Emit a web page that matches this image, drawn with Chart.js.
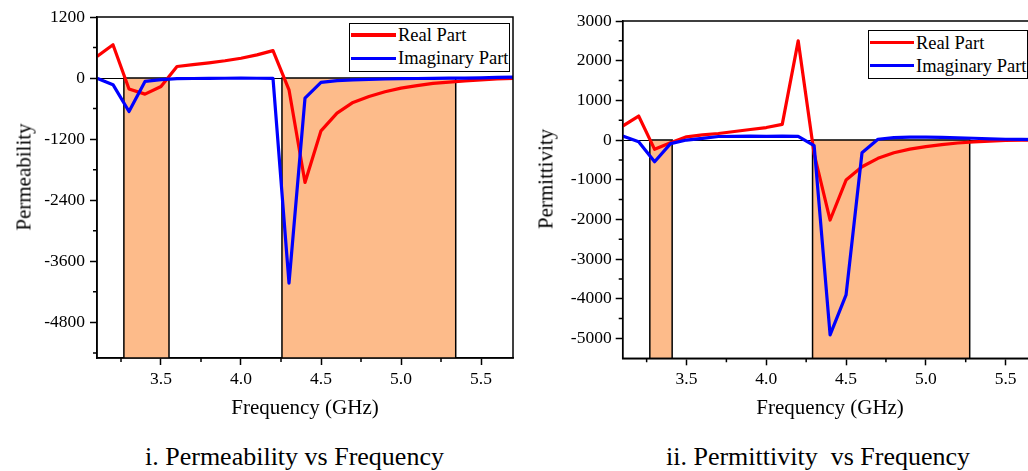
<!DOCTYPE html>
<html>
<head>
<meta charset="utf-8">
<script src="https://cdn.jsdelivr.net/npm/chart.js@4.4.0/dist/chart.umd.min.js"></script>
<style>
html,body{margin:0;padding:0;background:#fff;overflow:hidden;width:1028px;height:471px;}
body{position:relative;font-family:"Liberation Serif","Times New Roman",serif;color:#000;}
canvas{position:absolute;top:0;}
.cap{position:absolute;font-size:26px;line-height:26px;white-space:pre;}
.ytitle{position:absolute;font-size:21px;line-height:21px;white-space:pre;transform:translate(-50%,-50%) rotate(-90deg);}
.lbox{position:absolute;border:1.5px solid #000;background:#fff;box-sizing:border-box;}
.row{position:absolute;height:20px;line-height:20px;font-size:18.5px;white-space:pre;}
.sw{position:absolute;height:3.4px;}
</style>
</head>
<body>
<canvas id="c1" width="530" height="430" style="left:0px;width:530px;height:430px;"></canvas>
<canvas id="c2" width="520" height="430" style="left:530px;width:520px;height:430px;"></canvas>

<div class="ytitle" style="left:24px;top:177px;">Permeability</div>
<div class="ytitle" style="left:546px;top:179px;">Permittivity</div>

<div class="lbox" style="left:349px;top:22.5px;width:161px;height:49px;"></div>
<div class="sw" style="left:350.5px;top:33.3px;width:45px;background:#ff0000;"></div>
<div class="sw" style="left:350.5px;top:56.6px;width:45px;background:#0000ff;"></div>
<div class="row" style="left:398px;top:25px;">Real Part</div>
<div class="row" style="left:398px;top:48.3px;">Imaginary Part</div>

<div class="lbox" style="left:868px;top:30px;width:160px;height:49px;"></div>
<div class="sw" style="left:869.5px;top:41px;width:44px;background:#ff0000;"></div>
<div class="sw" style="left:869.5px;top:64px;width:44px;background:#0000ff;"></div>
<div class="row" style="left:916px;top:32.7px;">Real Part</div>
<div class="row" style="left:916px;top:55.7px;">Imaginary Part</div>

<div class="cap" style="left:145px;top:444px;">i. Permeability vs Frequency</div>
<div class="cap" style="left:666px;top:444px;">ii. Permittivity  vs Frequency</div>

<script>
// ---- data ----
const freq = [3.1,3.2,3.3,3.4,3.5,3.6,3.7,3.8,3.9,4.0,4.1,4.2,4.3,4.4,4.5,4.6,4.7,4.8,4.9,5.0,5.1,5.2,5.3,5.4,5.5,5.6,5.7];
const muReal  = [425,655,-216,-315,-165,228,265,300,340,390,455,540,-230,-2050,-1036,-689,-479,-361,-269,-197,-148,-105,-78,-55,-35,-18,-5];
const muImag  = [-5,-130,-657,-65,-30,-12,-8,-5,-3,-2,-3,-5,-4030,-393,-86,-50,-35,-25,-18,-12,-8,-5,-2,0,5,15,20];
const epsReal = [353,605,-234,-68,80,130,165,215,265,315,395,2500,-350,-2015,-1008,-672,-461,-319,-230,-165,-115,-75,-45,-25,-12,-5,0];
const epsImag = [100,-42,-546,-90,0,40,90,95,100,95,100,95,-143,-4912,-3904,-319,20,60,75,75,65,55,45,30,20,15,10];

const freqTicks = [3.5,4.0,4.5,5.0,5.5];
const freqMinor = [3.25,3.75,4.25,4.75,5.25];
const muTicks = [-4800,-3600,-2400,-1200,0,1200];
const muMinor = [-5400,-4200,-3000,-1800,-600,600];
const epsTicks = [-5000,-4000,-3000,-2000,-1000,0,1000,2000,3000];
const epsMinor = [-4500,-3500,-2500,-1500,-500,500,1500,2500];
const muBands = [[3.268,3.55],[4.256,5.342]];
const epsBands = [[3.27,3.41],[4.29,5.275]];

const FONT = 'Liberation Serif';

const framePlugin = {
  id: 'frameMinor',
  afterDraw(chart, args, opts) {
    const {ctx, chartArea: ca, scales: {x, y}} = chart;
    ctx.save();
    ctx.strokeStyle = '#000';
    ctx.lineWidth = 1.5;
    ctx.beginPath();
    (opts.y || []).forEach(v => { const py = y.getPixelForValue(v); ctx.moveTo(ca.left, py); ctx.lineTo(ca.left - 4, py); });
    (opts.x || []).forEach(v => { const px = x.getPixelForValue(v); ctx.moveTo(px, ca.bottom); ctx.lineTo(px, ca.bottom + 4); });
    ctx.stroke();
    ctx.strokeRect(ca.left, ca.top, ca.right - ca.left, ca.bottom - ca.top);
    ctx.restore();
  }
};

function makeChart(id, real, imag, yTicks, yMinor, yMin, yMax, bands, d) {
  const pts = arr => freq.map((f, i) => ({x: f, y: arr[i]}));
  const bandSets = bands.map(([a, b]) => ({
    data: [{x: a, y: yMin}, {x: a, y: 0}, {x: b, y: 0}, {x: b, y: yMin}],
    borderColor: '#000', borderWidth: 1.5, backgroundColor: 'rgb(253,187,138)',
    fill: 'start', pointRadius: 0, tension: 0, order: 5
  }));
  return new Chart(document.getElementById(id), {
    type: 'line',
    data: {
      datasets: [
        {label: 'Imaginary Part', data: pts(imag), borderColor: '#0000ff', borderWidth: 3.2, pointRadius: 0, tension: 0, fill: false, borderJoinStyle: 'round', order: 0},
        {label: 'Real Part', data: pts(real), borderColor: '#ff0000', borderWidth: 3.2, pointRadius: 0, tension: 0, fill: false, borderJoinStyle: 'round', order: 1},
        ...bandSets
      ]
    },
    options: {
      responsive: false,
      animation: false,
      devicePixelRatio: 1,
      layout: {padding: {left: 0, top: d.top, right: d.right, bottom: 0}},
      plugins: {legend: {display: false}, tooltip: {enabled: false}, frameMinor: {x: freqMinor, y: yMinor}},
      scales: {
        x: {
          type: 'linear', min: 3.1, max: 5.7,
          afterBuildTicks: s => { s.ticks = freqTicks.map(v => ({value: v})); },
          afterFit: s => { s.height = d.xh; },
          grid: {drawOnChartArea: false, drawTicks: true, tickLength: 7, tickColor: '#000', tickWidth: 1.5},
          border: {display: true, color: '#000', width: 1.5},
          ticks: {color: '#000', font: {family: FONT, size: 17.5}, padding: 4, maxRotation: 0, autoSkip: false,
                  callback: v => Number(v).toFixed(1)},
          title: {display: true, text: 'Frequency (GHz)', color: '#000', font: {family: FONT, size: 21}, padding: {top: 0, bottom: 9}}
        },
        y: {
          type: 'linear', min: yMin, max: yMax,
          afterBuildTicks: s => { s.ticks = yTicks.map(v => ({value: v})); },
          afterFit: s => { s.width = d.yw; },
          grid: {drawOnChartArea: true, drawTicks: true, tickLength: 7, tickColor: '#000', tickWidth: 1.5,
                 color: c => (c.tick && c.tick.value === 0) ? '#000' : 'rgba(0,0,0,0)', lineWidth: 1},
          border: {display: true, color: '#000', width: 1.5},
          ticks: {color: '#000', font: {family: FONT, size: 17.5}, padding: d.tp, autoSkip: false,
                  callback: v => String(v)},
          title: {display: false}
        }
      }
    },
    plugins: [framePlugin]
  });
}

makeChart('c1', muReal, muImag, muTicks, muMinor, -5500, 1200, muBands, {top: 17, right: 17, yw: 97, xh: 72, tp: 5});
makeChart('c2', epsReal, epsImag, epsTicks, epsMinor, -5500, 3000, epsBands, {top: 21, right: 12.5, yw: 92.7, xh: 71.7, tp: 4});
</script>
</body>
</html>
